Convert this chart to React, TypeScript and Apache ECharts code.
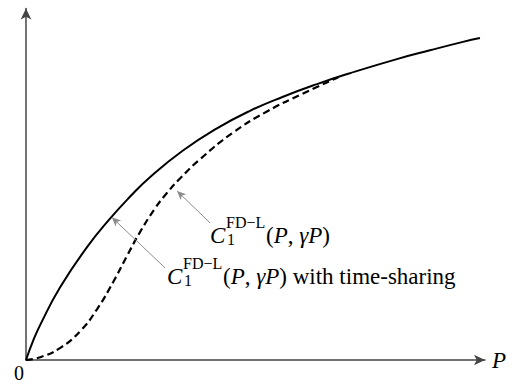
import React, { useEffect, useRef } from "react";
import * as echarts from "echarts";

// Solid curve: C_1^{FD-L}(P, γP) with time-sharing
const solidP = [0, 0.15, 0.31, 0.74, 1.33, 1.83, 2.27, 2.7, 3.42, 4.16, 4.88, 5.6, 6.34, 7.06, 8.08, 8.8, 9.52, 9.89];
const solidC = [0, 0.53, 1.0, 2.06, 3.21, 4.02, 4.65, 5.2, 5.96, 6.59, 7.09, 7.49, 7.85, 8.16, 8.56, 8.81, 9.05, 9.16];

// Dashed curve: C_1^{FD-L}(P, γP)
const dashedP = [0, 0.31, 0.74, 1.18, 1.55, 1.9, 2.2, 2.48, 2.81, 3.07, 3.36, 3.79, 4.51, 5.25, 5.97, 6.8];
const dashedC = [0, 0.08, 0.34, 0.82, 1.45, 2.22, 2.96, 3.63, 4.31, 4.75, 5.17, 5.71, 6.47, 7.07, 7.54, 8.04];

// Annotation arrows: [tailP, tailC, tipP, tipC]
const arrowDashed = [4.01, 3.9, 3.29, 4.81];
const arrowSolid = [3.03, 2.62, 1.87, 4.06];

const axisMax = 10;
const xName = "P";
const originLabel = "0";

const FONT = "Liberation Serif";

function mathLabel(left: number, cy: number, suffix: string) {
  return [
    {
      type: "text",
      x: left,
      y: cy,
      style: { text: "C", fontFamily: FONT, fontSize: 23, fontStyle: "italic", fill: "#000", align: "left", verticalAlign: "middle" },
    },
    {
      type: "text",
      x: left + 16,
      y: cy - 13,
      style: { text: "FD\u2212L", fontFamily: FONT, fontSize: 16, fill: "#000", align: "left", verticalAlign: "middle" },
    },
    {
      type: "text",
      x: left + 17,
      y: cy + 4,
      style: { text: "1", fontFamily: FONT, fontSize: 16, fill: "#000", align: "left", verticalAlign: "middle" },
    },
    {
      type: "text",
      x: left + 56,
      y: cy,
      style: {
        text: "{r|(}{i|P}{r|, }{i|\u03b3P}{r|)" + suffix + "}",
        fontFamily: FONT,
        fontSize: 23,
        fill: "#000",
        align: "left",
        verticalAlign: "middle",
        rich: {
          r: { fontFamily: FONT, fontSize: 23, fill: "#000" },
          i: { fontFamily: FONT, fontSize: 23, fontStyle: "italic", fill: "#000" },
        },
      },
    },
  ];
}

export default function App() {
  const ref = useRef<HTMLDivElement>(null);
  useEffect(() => {
    if (!ref.current) return;
    const chart = echarts.init(ref.current, null, { renderer: "svg" });
    const axisLine = {
      show: true,
      onZero: false,
      symbol: ["none", "arrow"],
      symbolSize: [8, 11],
      lineStyle: { color: "#444", width: 1.5 },
    };
    chart.setOption({
      animation: false,
      backgroundColor: "#fff",
      textStyle: { fontFamily: FONT },
      grid: { left: 26, right: 32, top: 8.5, bottom: 24, containLabel: false },
      xAxis: {
        type: "value",
        min: 0,
        max: axisMax,
        name: xName,
        nameLocation: "end",
        nameGap: 7,
        nameTextStyle: { fontFamily: FONT, fontStyle: "italic", fontSize: 23, color: "#000" },
        axisLine,
        axisTick: { show: false },
        axisLabel: { show: false },
        splitLine: { show: false },
      },
      yAxis: {
        type: "value",
        min: 0,
        max: axisMax,
        axisLine,
        axisTick: { show: false },
        axisLabel: { show: false },
        splitLine: { show: false },
      },
      series: [
        {
          type: "line",
          data: dashedP.map((p, i) => [p, dashedC[i]]),
          smooth: 0.5,
          showSymbol: false,
          lineStyle: { color: "#000", width: 2.2, type: [7, 4] },
          silent: true,
        },
        {
          type: "line",
          data: solidP.map((p, i) => [p, solidC[i]]),
          smooth: 0.5,
          showSymbol: false,
          lineStyle: { color: "#000", width: 2 },
          silent: true,
          markLine: {
            silent: true,
            symbol: ["none", "arrow"],
            symbolSize: [6, 9],
            label: { show: false },
            itemStyle: { color: "#333" },
            lineStyle: { color: "#8c8c8c", width: 1, type: "solid" },
            emphasis: { disabled: true },
            data: [
              [
                { coord: [arrowDashed[0], arrowDashed[1]] },
                { coord: [arrowDashed[2], arrowDashed[3]] },
              ],
              [
                { coord: [arrowSolid[0], arrowSolid[1]] },
                { coord: [arrowSolid[2], arrowSolid[3]] },
              ],
            ],
          },
        },
      ],
      graphic: [
        {
          type: "text",
          x: 19,
          y: 373,
          style: { text: originLabel, fontFamily: FONT, fontSize: 20, fill: "#000", align: "center", verticalAlign: "middle" },
        },
        ...mathLabel(210, 235, ""),
        ...mathLabel(167, 276, " with time-sharing"),
      ],
    });
    return () => chart.dispose();
  }, []);
  return <div ref={ref} style={{ position: "absolute", left: 0, top: 0, width: 517, height: 384 }} />;
}
